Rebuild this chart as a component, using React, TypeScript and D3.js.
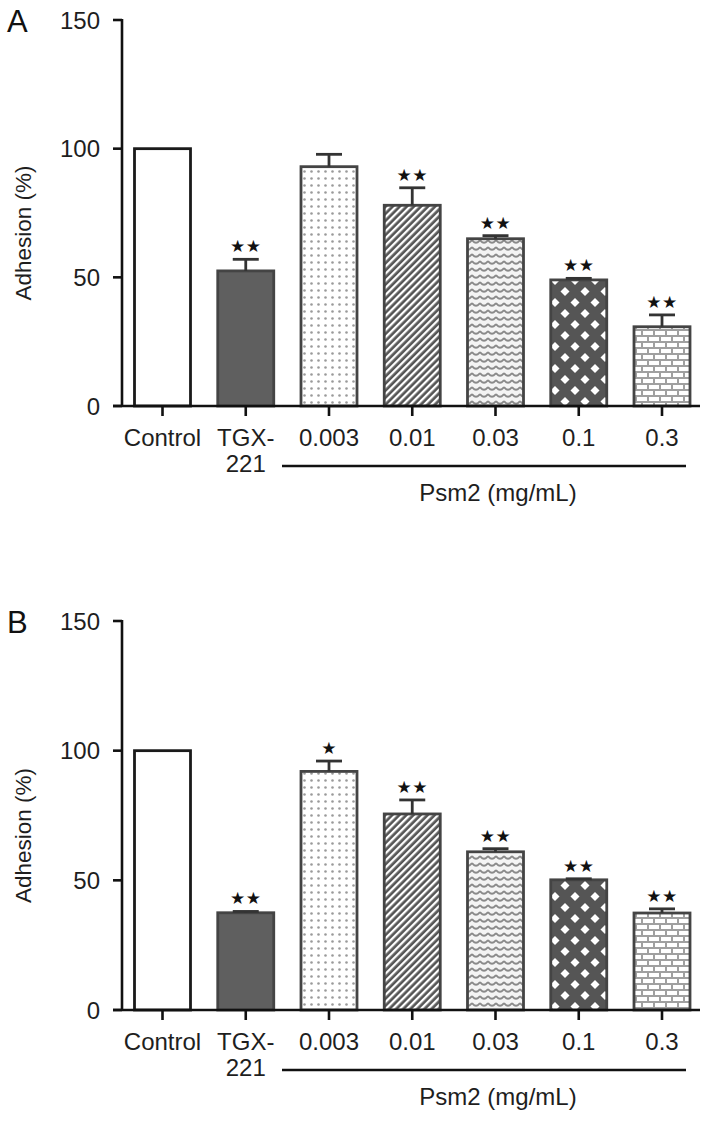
import React from "react";
import * as d3 from "d3";

const categories = ["Control", "TGX-221", "0.003", "0.01", "0.03", "0.1", "0.3"];
const tickLines = [["Control"], ["TGX-", "221"], ["0.003"], ["0.01"], ["0.03"], ["0.1"], ["0.3"]];
const fills = ["white", "tgx", "dots", "diag", "waves", "diamonds", "bricks"];

const valuesA = [100, 52.5, 93, 78, 65, 49, 30.8];
const errorsA = [0, 4.5, 4.8, 6.8, 1.2, 0.6, 4.6];
const starsA = ["", "**", "", "**", "**", "**", "**"];

const valuesB = [100, 37.5, 92, 75.6, 61, 50.2, 37.4];
const errorsB = [0, 0.5, 4, 5.4, 1.2, 0.4, 1.6];
const starsB = ["", "**", "*", "**", "**", "**", "**"];

const yTicks = [0, 50, 100, 150];
const FONT = "Liberation Sans, Arial, Helvetica, sans-serif";

function fillFor(kind: string, p: string) {
  if (kind === "white") return "white";
  if (kind === "tgx") return "#5f5f5f";
  return `url(#${p}-${kind})`;
}

function Defs({ p }: { p: string }) {
  return (
    <>
      <pattern id={`${p}-dots`} width={7} height={7} patternUnits="userSpaceOnUse">
        <rect width={7} height={7} fill="white" />
        <circle cx={3.5} cy={3.5} r={1.3} fill="#9a9a9a" />
      </pattern>
      <pattern id={`${p}-diag`} width={5} height={5} patternUnits="userSpaceOnUse" patternTransform="rotate(45)">
        <rect width={5} height={5} fill="#555" />
        <rect x={0} y={0} width={2.3} height={5} fill="white" />
      </pattern>
      <pattern id={`${p}-waves`} width={8} height={7} patternUnits="userSpaceOnUse">
        <rect width={8} height={7} fill="#f4f4f4" />
        <path d="M0,2 Q4,7.5 8,2" stroke="#8a8a8a" strokeWidth={1.8} fill="none" />
      </pattern>
      <pattern id={`${p}-diamonds`} width={20} height={22} patternUnits="userSpaceOnUse">
        <rect width={20} height={22} fill="#555" />
        <path d="M5,1 L9.5,5.5 L5,10 L0.5,5.5 Z" fill="white" />
        <path d="M15,12 L19.5,16.5 L15,21 L10.5,16.5 Z" fill="white" />
      </pattern>
      <pattern id={`${p}-bricks`} width={12} height={12} patternUnits="userSpaceOnUse">
        <rect width={12} height={12} fill="#a0a0a0" />
        <rect x={1} y={1} width={10} height={4} fill="white" />
        <rect x={-5} y={7} width={10} height={4} fill="white" />
        <rect x={7} y={7} width={10} height={4} fill="white" />
      </pattern>
    </>
  );
}

function Panel({ label, top, bottom, values, errors, stars, p }: any) {
  const x = d3.scalePoint<string>().domain(categories).range([162.5, 662]);
  const y = d3.scaleLinear().domain([0, 150]).range([bottom, top]);
  const axisX = 122;
  const barW = 56;
  const psmY = bottom + 60;
  return (
    <g>
      <text x={7} y={top + 12} fontSize={31} fontFamily={FONT} fill="#111">{label}</text>
      {categories.map((c, i) => {
        const cx = x(c)!;
        const v = values[i];
        const e = errors[i];
        const yTop = y(v);
        const yCap = y(v + e);
        const kind = fills[i];
        return (
          <g key={c}>
            <rect x={cx - barW / 2} y={yTop} width={barW} height={y(0) - yTop}
              fill={fillFor(kind, p)} stroke={i === 0 ? "#1a1a1a" : "#444"} strokeWidth={2.8} />
            {e > 0 && (
              <g stroke="#333" strokeWidth={2.8}>
                <line x1={cx} x2={cx} y1={yTop} y2={yCap} />
                <line x1={cx - 13} x2={cx + 13} y1={yCap} y2={yCap} />
              </g>
            )}
            {stars[i] && (
              <text x={cx} y={yCap - 7} textAnchor="middle" fontSize={17} letterSpacing={0.5}
                fontFamily="DejaVu Sans, sans-serif" fill="#111">
                {stars[i].replace(/\*/g, "★")}
              </text>
            )}
          </g>
        );
      })}
      <g stroke="#111" strokeWidth={2.6} fill="none">
        <line x1={axisX} x2={axisX} y1={y(150) - 1} y2={y(0)} />
        <line x1={axisX - 9} x2={700} y1={y(0)} y2={y(0)} />
        {yTicks.map((t) => (
          <line key={t} x1={axisX - 9} x2={axisX} y1={y(t)} y2={y(t)} />
        ))}
        {categories.map((c) => (
          <line key={c} x1={x(c)!} x2={x(c)!} y1={y(0)} y2={y(0) + 10} />
        ))}
        <line x1={282} x2={686} y1={psmY} y2={psmY} />
      </g>
      {yTicks.map((t) => (
        <text key={t} x={axisX - 22} y={y(t) + 8.5} textAnchor="end" fontSize={24} fontFamily={FONT} fill="#1e1e1e">{t}</text>
      ))}
      {categories.map((c, i) => (
        <text key={c} x={x(c)!} textAnchor="middle" fontSize={24} fontFamily={FONT} fill="#1e1e1e">
          {tickLines[i].map((ln, j) => (
            <tspan key={j} x={x(c)!} y={bottom + 40 + j * 26}>{ln}</tspan>
          ))}
        </text>
      ))}
      <text x={498} y={bottom + 95} textAnchor="middle" fontSize={24} fontFamily={FONT} fill="#1e1e1e">Psm2 (mg/mL)</text>
      <text transform={`translate(31,${(top + bottom) / 2 + 20}) rotate(-90)`} textAnchor="middle" fontSize={22.5}
        fontFamily={FONT} fill="#1e1e1e">Adhesion (%)</text>
    </g>
  );
}

export default function App() {
  return (
    <svg width={714} height={1121} style={{ position: "absolute", left: 0, top: 0, background: "white" }}>
      <defs>
        <Defs p="a" />
        <Defs p="b" />
      </defs>
      <rect width={714} height={1121} fill="white" />
      <Panel label="A" top={20} bottom={406} values={valuesA} errors={errorsA} stars={starsA} p="a" />
      <Panel label="B" top={621} bottom={1010} values={valuesB} errors={errorsB} stars={starsB} p="b" />
    </svg>
  );
}
